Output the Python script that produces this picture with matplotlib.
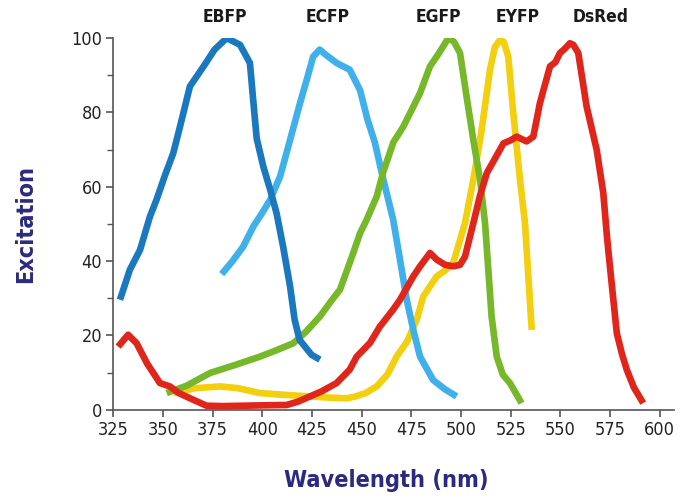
import matplotlib
matplotlib.use("Agg")
import matplotlib.pyplot as plt
from matplotlib.ticker import MultipleLocator
from matplotlib import font_manager as fm

# ---- data ----
ebfp_wl = [328.4, 333.4, 338.5, 343.5, 346.8, 351.0, 355.2, 359.0, 363.6, 371.0, 376.0, 382.1,
           388.8, 393.8, 395.5, 397.2, 400.5, 404.0, 407.2, 410.5, 414.0, 416.3, 418.8, 424.8, 429.0]
ebfp_val = [29.6, 37.7, 43.0, 52.0, 56.5, 63.0, 69.0, 77.0, 87.0, 92.8, 96.9, 100.0,
            98.2, 93.3, 83.0, 73.0, 65.5, 59.2, 52.9, 43.9, 33.2, 24.2, 18.8, 14.8, 13.5]

ecfp_wl = [379.6, 385.0, 390.4, 395.5, 400.0, 404.0, 409.0, 414.0, 419.0, 422.5, 425.6, 428.9, 432.0,
           437.4, 444.0, 449.2, 453.0, 456.6, 460.9, 465.9, 469.3, 472.7, 476.0, 479.4, 486.0, 492.0, 497.8]
ecfp_val = [36.5, 40.0, 43.9, 49.3, 53.0, 56.5, 62.8, 72.6, 82.5, 89.0, 95.0, 96.9, 95.5,
            93.3, 91.5, 86.0, 78.0, 72.0, 62.0, 51.1, 40.4, 29.6, 21.5, 14.3, 8.0, 5.5, 3.6]

egfp_wl = [351.9, 362.0, 373.7, 386.0, 398.8, 407.0, 415.6, 422.0, 429.0, 435.0, 439.1, 445.8,
           449.2, 452.5, 457.6, 460.9, 466.0, 471.0, 479.4, 484.4, 489.0, 493.6, 496.5, 499.5,
           502.8, 506.2, 509.6, 512.1, 515.4, 518.0, 521.0, 524.6, 530.5]
egfp_val = [4.5, 6.5, 9.9, 12.0, 14.3, 16.0, 17.9, 21.0, 25.1, 29.5, 32.3, 42.2,
            47.5, 51.1, 57.4, 64.0, 72.0, 76.2, 85.2, 92.4, 96.0, 100.0, 99.0, 96.0,
            84.3, 72.6, 61.9, 50.2, 25.1, 14.3, 9.5, 7.2, 1.8]

eyfp_wl = [355.2, 366.0, 378.7, 388.0, 398.8, 412.0, 424.0, 433.0, 442.5, 447.0, 452.0, 457.6,
           463.0, 467.6, 473.0, 477.7, 481.0, 487.8, 492.0, 496.1, 502.0, 506.2, 510.4, 514.6,
           517.0, 519.6, 521.5, 523.8, 526.3, 529.7, 532.2, 535.6]
eyfp_val = [4.5, 5.8, 6.3, 5.8, 4.5, 4.0, 3.6, 3.3, 3.1, 3.6, 4.5, 6.3,
            9.5, 14.3, 18.5, 24.2, 30.5, 35.9, 37.5, 39.5, 50.2, 61.9, 75.3, 91.5,
            97.5, 99.5, 99.0, 95.0, 79.8, 61.9, 50.2, 21.5]

dsred_wl = [327.5, 332.5, 336.8, 342.0, 348.5, 353.5, 358.0, 365.3, 372.0, 380.0, 390.4, 400.0,
            412.3, 418.0, 424.0, 430.0, 437.4, 444.0, 447.5, 454.2, 459.2, 465.9, 469.3, 476.0,
            479.4, 484.4, 487.8, 492.0, 496.1, 499.5, 502.0, 506.2, 509.5, 513.0, 517.0, 521.4,
            525.0, 528.0, 533.0, 536.4, 539.7, 542.0, 544.8, 547.5, 549.8, 552.0, 554.8,
            556.5, 559.0, 563.2, 568.3, 571.6, 573.3, 574.1, 576.0, 578.4, 581.0, 583.4,
            587.0, 591.7]
dsred_val = [17.0, 20.2, 17.9, 12.5, 7.2, 6.3, 4.5, 2.7, 1.1, 1.0, 1.1, 1.2,
             1.3, 2.2, 3.6, 5.0, 7.2, 10.8, 14.3, 18.0, 22.4, 27.0, 29.6, 35.9,
             38.6, 42.2, 40.4, 39.0, 38.6, 39.0, 41.2, 50.2, 57.5, 63.7, 67.5, 71.7,
             72.5, 73.5, 72.2, 73.5, 82.5, 87.0, 92.4, 93.5, 96.0, 97.0, 98.6,
             98.2, 96.0, 81.6, 69.9, 58.3, 47.5, 43.0, 33.0, 20.6, 15.0, 10.8,
             6.0, 1.8]

names = ["EYFP", "ECFP", "EGFP", "DsRed", "EBFP"]
label_wl = [528.5, 433.0, 488.5, 570.0, 381.0]
colors = ["#f2d00f", "#3fb0ea", "#77b82a", "#e0251b", "#1a78be"]
curves = [(eyfp_wl, eyfp_val), (ecfp_wl, ecfp_val), (egfp_wl, egfp_val),
          (dsred_wl, dsred_val), (ebfp_wl, ebfp_val)]

x_ticks = [325, 350, 375, 400, 425, 450, 475, 500, 525, 550, 575, 600]
y_ticks = [0, 20, 40, 60, 80, 100]

cond = fm.FontProperties(family="DejaVu Sans", stretch="condensed", size=13)
cond_b = fm.FontProperties(family="DejaVu Sans", stretch="condensed", weight="bold", size=12.5)
lab_b = fm.FontProperties(family="DejaVu Sans", stretch="condensed", weight="bold", size=16.8)

fig = plt.figure(figsize=(6.86, 5.01), dpi=100)
ax = fig.add_axes([0.165, 0.182, 0.817, 0.742])

for name, (wl, val), col, lx in zip(names, curves, colors, label_wl):
    ax.plot(wl, val, color=col, lw=4.8, solid_capstyle="butt", solid_joinstyle="round")
    ax.text(lx, 103.3, name, ha="center", va="bottom", fontproperties=cond_b,
            color="#1a1a1a", clip_on=False)

ax.set_xlim(325, 607)
ax.set_ylim(0, 100)
ax.set_xticks(x_ticks)
ax.set_yticks(y_ticks)
ax.yaxis.set_minor_locator(MultipleLocator(10))
ax.spines["top"].set_visible(False)
ax.spines["right"].set_visible(False)
for s in ("left", "bottom"):
    ax.spines[s].set_color("#555555")
    ax.spines[s].set_linewidth(1.2)
ax.tick_params(axis="both", which="major", length=5, width=1.2, color="#555555",
               labelcolor="#222222", pad=3)
ax.tick_params(axis="y", which="minor", length=4, width=1.0, color="#555555")
for lab in ax.get_xticklabels() + ax.get_yticklabels():
    lab.set_fontproperties(cond)

fig.text(386 / 686, 1 - 481 / 501, "Wavelength (nm)", fontproperties=lab_b, color="#2b2a7e",
         ha="center", va="center")
fig.text(26 / 686, 1 - 224 / 501, "Excitation", fontproperties=lab_b, color="#2b2a7e",
         ha="center", va="center", rotation=90)

fig.savefig("out.png", dpi=100, facecolor="white")
